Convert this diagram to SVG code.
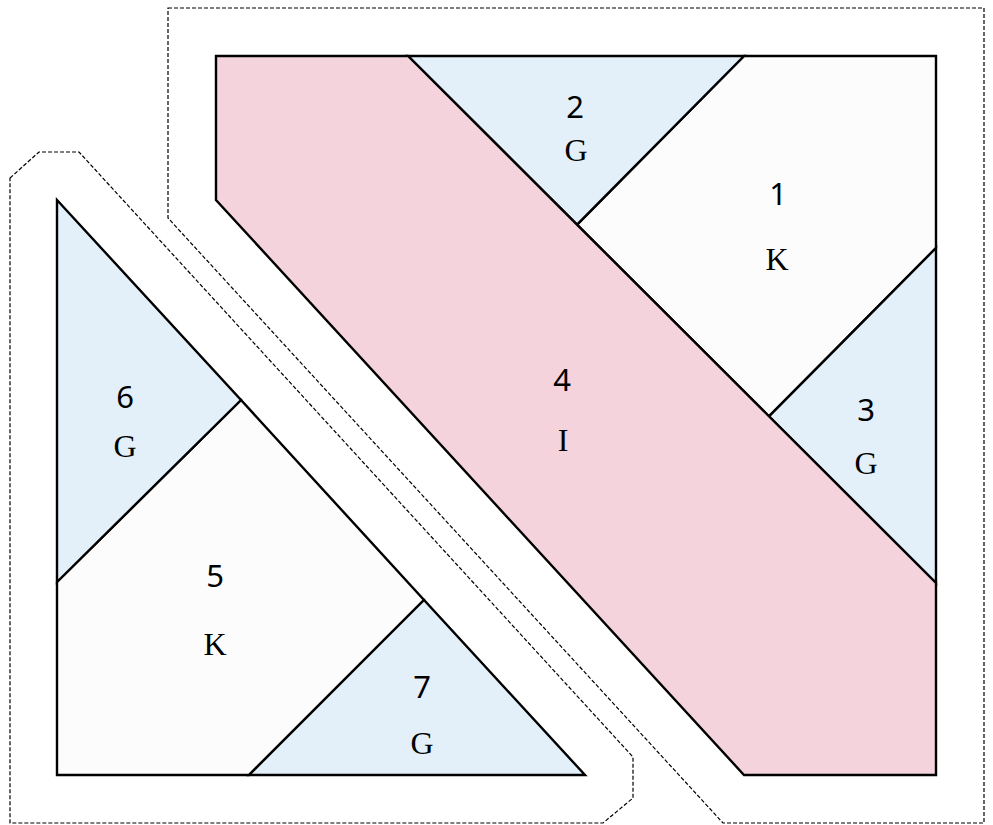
<svg xmlns="http://www.w3.org/2000/svg" width="993" height="825" viewBox="0 0 993 825">
<style>
.p{stroke:#000;stroke-width:2.4;stroke-linejoin:miter}
.k{fill:#fcfcfc}
.g{fill:#e3f0f9}
.i{fill:#f5d3dc}
.d{fill:none;stroke:#000;stroke-width:1.2;stroke-dasharray:4 2}
.n{font-family:"Noto Sans","DejaVu Sans",sans-serif;font-size:31px;text-anchor:middle;fill:#000}
.l{font-family:"Liberation Serif","Times New Roman",serif;font-size:32px;text-anchor:middle;fill:#000}
</style>
<rect width="993" height="825" fill="#fff"/>
<g id="outlines">
<path class="d" d="M168,8 L984,8 L984,823 L723,823 L168,218 Z"/>
<path class="d" d="M10,178 L39,152 L79,152 L633,757 L633,798 L603,823 L10,823 Z"/>
</g>
<g id="node1">
<polygon class="p k" points="744,56 936,56 936,248 769,416.3 577,224.7"/>
<text class="n" x="778" y="205">1</text>
<text class="l" x="777" y="270">K</text>
</g>
<g id="node2">
<polygon class="p g" points="408,56 744,56 577,224.7"/>
<text class="n" x="575" y="118">2</text>
<text class="l" x="576" y="161">G</text>
</g>
<g id="node3">
<polygon class="p g" points="936,248 936,583 769,416.3"/>
<text class="n" x="866" y="421">3</text>
<text class="l" x="866" y="474">G</text>
</g>
<g id="node4">
<polygon class="p i" points="216,56 408,56 936,583 936,775 744,775 216,200"/>
<text class="n" x="562" y="391">4</text>
<text class="l" x="563" y="451">I</text>
</g>
<g id="node5">
<polygon class="p k" points="57,582 241,400 424,600 249,775 57,775"/>
<text class="n" x="215" y="587">5</text>
<text class="l" x="215" y="655">K</text>
</g>
<g id="node6">
<polygon class="p g" points="57,200 241,400 57,582"/>
<text class="n" x="125" y="408">6</text>
<text class="l" x="125" y="457">G</text>
</g>
<g id="node7">
<polygon class="p g" points="249,775 424,600 585,775"/>
<text class="n" x="422" y="698">7</text>
<text class="l" x="422" y="754">G</text>
</g>
<g id="connectors"></g>
</svg>
